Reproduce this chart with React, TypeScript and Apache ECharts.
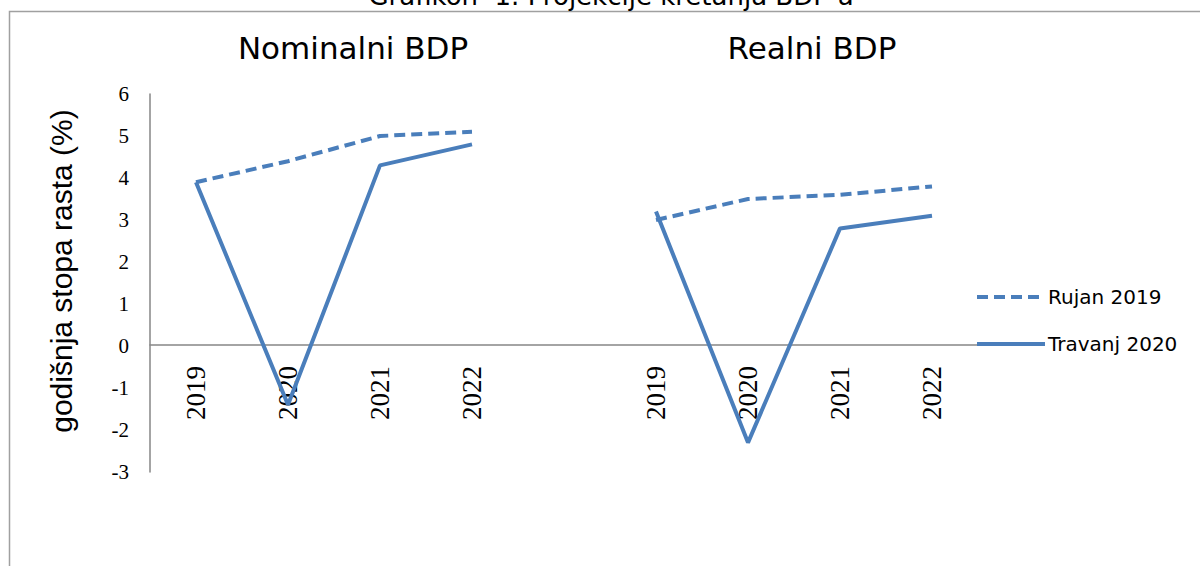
import React, { useEffect, useRef } from "react";
import * as echarts from "echarts";

const categories = ["2019", "2020", "2021", "2022", "", "2019", "2020", "2021", "2022"];
const nominalRujan = [3.9, 4.4, 5.0, 5.1];
const nominalTravanj = [3.9, -1.4, 4.3, 4.8];
const realRujan = [3.0, 3.5, 3.6, 3.8];
const realTravanj = [3.2, -2.3, 2.8, 3.1];
const yTicks = { min: -3, max: 6, interval: 1 };
const seriesNames = ["Rujan 2019", "Travanj 2020"];

const LINE_COLOR = "#4A7EBB";

function leftPart(vals: number[]) {
  return [...vals, "-", "-", "-", "-", "-"];
}
function rightPart(vals: number[]) {
  return ["-", "-", "-", "-", "-", ...vals];
}

export default function App() {
  const ref = useRef<HTMLDivElement>(null);
  useEffect(() => {
    if (!ref.current) return;
    const chart = echarts.init(ref.current, null, { renderer: "svg" });
    const dashed = { color: LINE_COLOR, width: 4, type: [11, 6] as any };
    const solid = { color: LINE_COLOR, width: 4, type: "solid" as any };
    const titleStyle = { fontFamily: "DejaVu Sans", fontSize: 31, fontWeight: "normal", color: "#000" };
    chart.setOption({
      animation: false,
      backgroundColor: "#fff",
      title: [
        { text: "Nominalni BDP", left: 348, top: 27, textAlign: "center", textStyle: titleStyle },
        { text: "Realni BDP", left: 807, top: 27, textAlign: "center", textStyle: titleStyle },
      ],
      graphic: [
        {
          type: "rect",
          shape: { x: 9.5, y: 11.5, width: 1250, height: 600 },
          style: { fill: "none", stroke: "#a0a0a0", lineWidth: 1.5 },
          silent: true,
        },
        {
          type: "text",
          x: 611,
          y: -4,
          style: {
            text: "Grafikon  1. Projekcije kretanja BDP-a",
            fontFamily: "DejaVu Sans",
            fontSize: 26,
            fill: "#000",
            align: "center",
            verticalAlign: "middle",
          },
        },
      ],
      legend: {
        orient: "vertical",
        left: 975,
        top: 287,
        padding: 0,
        itemGap: 27,
        itemWidth: 68,
        itemHeight: 20,
        data: seriesNames,
        itemStyle: { opacity: 0 },
        lineStyle: { width: 4 },
        textStyle: { fontFamily: "DejaVu Sans", fontSize: 20, color: "#000", padding: [0, 0, 0, -2] },
      },
      grid: { left: 150, right: 222, top: 94, bottom: 94, containLabel: false },
      xAxis: {
        type: "category",
        data: categories,
        boundaryGap: true,
        offset: -127,
        axisLine: { onZero: false, lineStyle: { color: "#868686", width: 1.5 } },
        axisTick: { show: false },
        axisLabel: {
          rotate: 90,
          margin: 21,
          interval: 0,
          fontFamily: "Liberation Serif",
          fontSize: 27,
          color: "#000",
        },
      },
      yAxis: {
        type: "value",
        min: yTicks.min,
        max: yTicks.max,
        interval: yTicks.interval,
        name: "godišnja stopa rasta (%)",
        nameLocation: "middle",
        nameRotate: 90,
        nameGap: 74,
        nameTextStyle: { fontFamily: "Liberation Sans", fontSize: 30, color: "#000", padding: [0, 0, 0, 24] },
        axisLine: { show: true, lineStyle: { color: "#868686", width: 1.5 } },
        axisTick: { show: false },
        splitLine: { show: false },
        axisLabel: { margin: 21, fontFamily: "Liberation Serif", fontSize: 21, color: "#000" },
      },
      series: [
        { name: seriesNames[0], type: "line", symbol: "none", data: leftPart(nominalRujan), lineStyle: dashed, itemStyle: { color: LINE_COLOR } },
        { name: seriesNames[0], type: "line", symbol: "none", data: rightPart(realRujan), lineStyle: dashed, itemStyle: { color: LINE_COLOR } },
        { name: seriesNames[1], type: "line", symbol: "none", data: leftPart(nominalTravanj), lineStyle: solid, itemStyle: { color: LINE_COLOR } },
        { name: seriesNames[1], type: "line", symbol: "none", data: rightPart(realTravanj), lineStyle: solid, itemStyle: { color: LINE_COLOR } },
      ],
    });
    return () => chart.dispose();
  }, []);
  return (
    <div
      ref={ref}
      style={{ position: "fixed", left: 0, top: 0, width: 1200, height: 566 }}
    />
  );
}
